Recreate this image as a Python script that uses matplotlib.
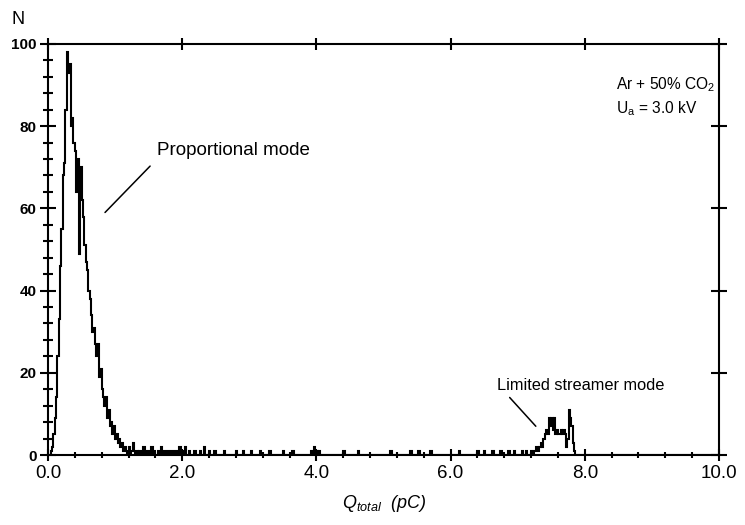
import matplotlib
matplotlib.use('Agg')
import matplotlib.pyplot as plt
from matplotlib.ticker import MultipleLocator, FormatStrFormatter
import numpy as np

plt.rcParams['font.family'] = ['Liberation Sans', 'DejaVu Sans']
plt.rcParams['mathtext.fontset'] = 'custom'
plt.rcParams['mathtext.rm'] = 'Liberation Sans'
plt.rcParams['mathtext.it'] = 'Liberation Sans:italic'

# histogram of total charge, bins of 0.02 pC
bin_width = 0.02
n_bins = 500

# proportional mode, bins starting at 0.00 pC
prop_counts = [0, 0, 1, 2, 5, 9, 14, 24, 33, 46,
               55, 68, 71, 84, 98, 93, 95, 80, 82, 76,
               74, 64, 72, 49, 70, 62, 58, 51, 47, 45,
               40, 38, 34, 30, 31, 27, 24, 27, 19, 21,
               16, 14, 12, 14, 9, 11, 7, 8, 5, 7,
               4, 5, 3, 4, 2, 3, 1, 2, 1, 0,
               2, 0, 1, 3, 1, 0, 1, 0, 1, 0]

# sparse counts between the two modes
tail_q = [1.42, 1.46, 1.50, 1.54, 1.58, 1.64, 1.68, 1.72, 1.78, 1.84,
          1.90, 1.96, 2.00, 2.04, 2.10, 2.18, 2.26, 2.32, 2.40, 2.48,
          2.62, 2.80, 2.90, 3.02, 3.16, 3.30, 3.50, 3.64, 3.92, 3.96,
          4.00, 4.04, 4.40, 4.62, 5.10, 5.40, 5.52, 5.70, 6.12, 6.40,
          6.50, 6.62, 6.74, 6.86, 6.94, 7.06, 7.12]
tail_n = [2, 1, 1, 2, 1, 1, 2, 1, 1, 1,
          1, 2, 1, 2, 1, 1, 1, 2, 1, 1,
          1, 1, 1, 1, 1, 1, 1, 1, 1, 2,
          1, 1, 1, 1, 1, 1, 1, 1, 1, 1,
          1, 1, 1, 1, 1, 1, 1]

# limited streamer mode, bins starting at 7.20 pC
streamer_start = 7.20
streamer_counts = [1, 0, 1, 1, 2, 1, 2, 3, 2, 4,
                   5, 6, 5, 9, 7, 9, 6, 9, 5, 6,
                   5, 5, 6, 5, 6, 5, 2, 4, 11, 9,
                   7, 3, 1, 0]

counts = np.zeros(n_bins)
counts[:len(prop_counts)] = prop_counts
for q, n in zip(tail_q, tail_n):
    counts[int(round(q / bin_width))] = n
i0 = int(round(streamer_start / bin_width))
counts[i0:i0 + len(streamer_counts)] = streamer_counts
edges = np.arange(n_bins + 1) * bin_width

fig = plt.figure(figsize=(7.45, 5.25), dpi=100)
ax = fig.add_axes([0.0644, 0.1333, 0.9007, 0.783])

ax.stairs(counts, edges, color='k', lw=1.5, baseline=None)

ax.set_xlim(0, 10)
ax.set_ylim(0, 100)
for s in ax.spines.values():
    s.set_linewidth(1.5)

ax.xaxis.set_major_locator(MultipleLocator(2))
ax.xaxis.set_minor_locator(MultipleLocator(0.4))
ax.yaxis.set_major_locator(MultipleLocator(20))
ax.yaxis.set_minor_locator(MultipleLocator(4))
ax.xaxis.set_major_formatter(FormatStrFormatter('%.1f'))

ax.tick_params(axis='x', which='major', direction='inout', length=9, width=1.5,
               labelsize=13.5, pad=3, top=True)
ax.tick_params(axis='x', which='minor', direction='inout', length=5, width=1.5)
ax.tick_params(axis='y', which='major', direction='inout', length=12, width=1.5,
               labelsize=11, pad=2, right=True)
ax.tick_params(axis='y', which='minor', direction='inout', length=7, width=1.5)
for lab in ax.get_yticklabels():
    lab.set_fontweight('bold')

ax.annotate('Proportional mode', xy=(0.85, 59), xytext=(1.62, 74),
            fontsize=13.5, va='center', ha='left',
            arrowprops=dict(arrowstyle='-', lw=1.1, color='k',
                            relpos=(0, 0), shrinkA=4, shrinkB=0))
ax.annotate('Limited streamer mode', xy=(7.27, 7), xytext=(6.69, 17),
            fontsize=11.8, va='center', ha='left',
            arrowprops=dict(arrowstyle='-', lw=1.1, color='k',
                            relpos=(0.05, 0), shrinkA=2, shrinkB=0))

ax.text(8.46, 90, r'Ar + 50% CO$_2$', fontsize=11.2, va='center', ha='left')
ax.text(8.46, 84.3, r'U$_\mathrm{a}$ = 3.0 kV', fontsize=11.2, va='center', ha='left')

fig.text(0.016, 0.962, 'N', fontsize=13, va='center', ha='left')
fig.text(0.515, 0.04, r'$Q_{total}$  (pC)', fontsize=13, style='italic',
         va='center', ha='center')

fig.savefig('out.png', dpi=100)
